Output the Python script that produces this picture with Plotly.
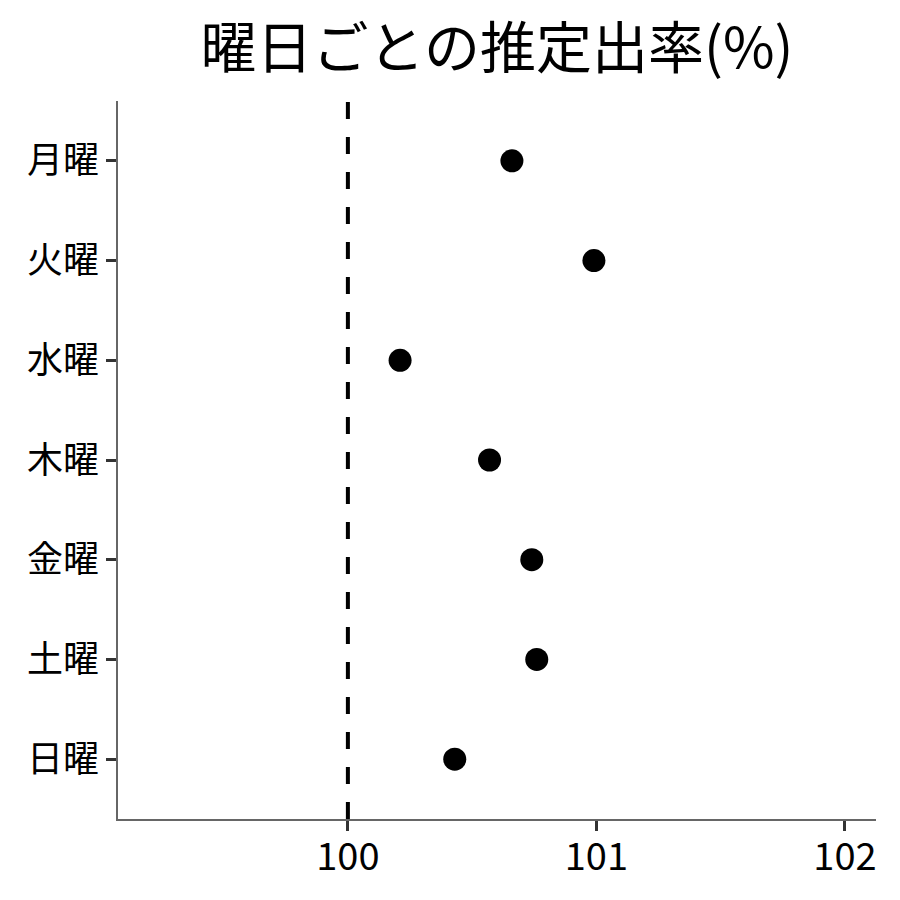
import plotly.graph_objects as go

days = ["月曜", "火曜", "水曜", "木曜", "金曜", "土曜", "日曜"]
rates = [100.66, 100.99, 100.21, 100.57, 100.74, 100.76, 100.43]
reference_value = 100
x_ticks = [100, 101, 102]
title_text = "曜日ごとの推定出率(%)"

FONT = "Noto Sans CJK JP"

fig = go.Figure()
fig.add_trace(go.Scatter(
    x=rates, y=days, mode="markers",
    marker=dict(color="black", size=23),
    showlegend=False, cliponaxis=False,
))
fig.add_vline(x=reference_value, line=dict(color="black", width=4, dash="17px,18px"))

fig.update_layout(
    width=900, height=900,
    paper_bgcolor="white", plot_bgcolor="white",
    margin=dict(l=110, r=32, t=93, b=89),
    font=dict(family=FONT, color="black"),
    title=dict(text=title_text, x=0.5, xref="paper", xanchor="center",
               y=0.955, yanchor="middle",
               font=dict(family=FONT, size=56, color="black")),
)
fig.update_xaxes(
    range=[99.075, 102.125], tickvals=x_ticks, ticktext=[str(v) for v in x_ticks],
    showgrid=False, zeroline=False,
    showline=True, linecolor="#666666", linewidth=1.5,
    ticks="outside", ticklen=10, tickwidth=3, tickcolor="#333333",
    ticklabelstandoff=-6,
    tickfont=dict(family=FONT, size=38, color="black"),
)
fig.update_yaxes(
    type="category", categoryorder="array", categoryarray=days[::-1],
    range=[-0.6, 6.6],
    showgrid=False, zeroline=False,
    showline=True, linecolor="#666666", linewidth=1.5,
    ticks="outside", ticklen=10, tickwidth=3, tickcolor="#333333",
    tickfont=dict(family=FONT, size=36, color="black"),
)

fig.write_html("out.html")
